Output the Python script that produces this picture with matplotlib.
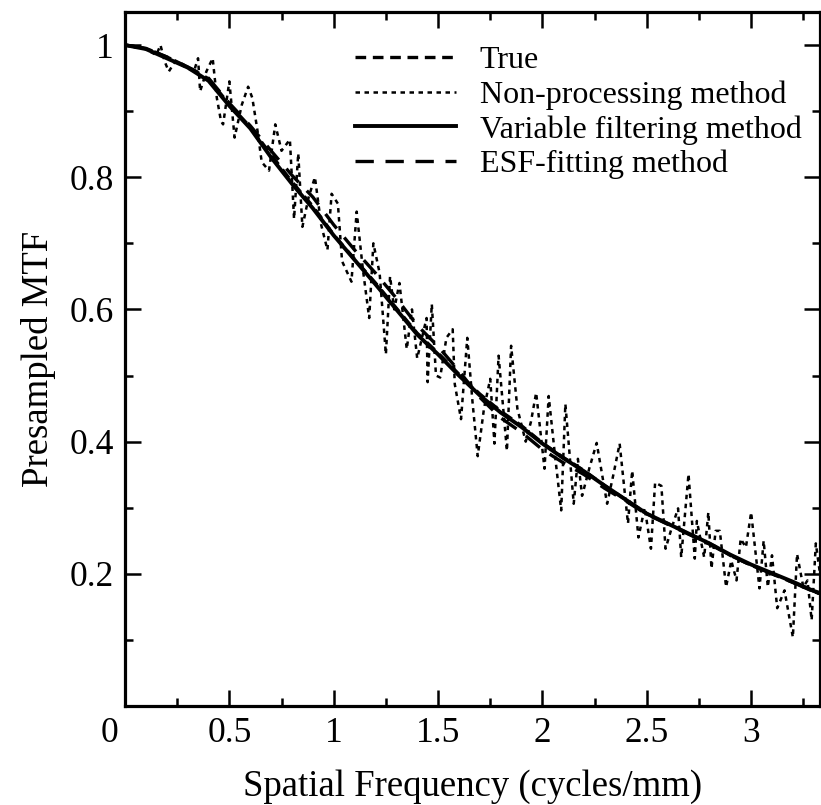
import matplotlib
matplotlib.use("Agg")
import matplotlib.pyplot as plt
from matplotlib.ticker import MultipleLocator, FuncFormatter
from matplotlib.transforms import ScaledTranslation

plt.rcParams['font.family'] = ['Liberation Serif', 'DejaVu Serif']

# ---- data ----
freq_smooth = [0.0, 0.1, 0.2, 0.3, 0.4, 0.5, 0.6, 0.7, 0.8, 0.9, 1.0, 1.1, 1.2, 1.3,
               1.4, 1.5, 1.6, 1.7, 1.8, 1.9, 2.0, 2.1, 2.2, 2.3, 2.4, 2.5, 2.6, 2.7,
               2.8, 2.9, 3.0, 3.1, 3.2, 3.3, 3.33]
mtf_true = [1.0, 0.995, 0.982, 0.967, 0.949, 0.910, 0.876, 0.834, 0.793, 0.756, 0.713,
            0.676, 0.640, 0.602, 0.564, 0.534, 0.502, 0.472, 0.446, 0.424, 0.398,
            0.376, 0.356, 0.333, 0.312, 0.291, 0.276, 0.261, 0.246, 0.228, 0.213,
            0.200, 0.187, 0.173, 0.170]
mtf_variable = [1.0, 0.994, 0.980, 0.966, 0.946, 0.908, 0.874, 0.830, 0.790, 0.753, 0.712,
                0.675, 0.638, 0.600, 0.562, 0.532, 0.500, 0.470, 0.444, 0.422, 0.397,
                0.375, 0.355, 0.333, 0.312, 0.291, 0.276, 0.261, 0.246, 0.229, 0.214,
                0.201, 0.188, 0.174, 0.171]
mtf_esf = [1.0, 0.995, 0.982, 0.967, 0.950, 0.912, 0.878, 0.840, 0.803, 0.770, 0.728,
           0.690, 0.655, 0.617, 0.576, 0.544, 0.507, 0.467, 0.436, 0.414, 0.388,
           0.368, 0.350, 0.329, 0.310, 0.290, 0.275, 0.260, 0.245, 0.228, 0.213,
           0.200, 0.187, 0.173, 0.170]

freq_raw = [0.00, 0.03, 0.06, 0.09, 0.12, 0.15, 0.17, 0.19, 0.21, 0.24, 0.27, 0.30, 0.33,
            0.35, 0.36, 0.39, 0.42, 0.44, 0.46, 0.47, 0.50, 0.525, 0.56, 0.59, 0.61,
            0.635, 0.655, 0.69, 0.72, 0.75, 0.79, 0.81, 0.83, 0.85, 0.88, 0.91, 0.94,
            0.97, 0.99, 1.02, 1.04, 1.085, 1.11, 1.14, 1.17, 1.19, 1.22, 1.25, 1.27,
            1.29, 1.315, 1.35, 1.375, 1.40, 1.445, 1.45, 1.47, 1.49, 1.51, 1.54, 1.57,
            1.58, 1.61, 1.64, 1.665, 1.69, 1.72, 1.75, 1.77, 1.79, 1.83, 1.85, 1.88,
            1.92, 1.945, 1.97, 2.01, 2.03, 2.06, 2.09, 2.11, 2.15, 2.17, 2.19, 2.225,
            2.26, 2.31, 2.34, 2.37, 2.41, 2.43, 2.46, 2.49, 2.52, 2.54, 2.57, 2.59,
            2.62, 2.65, 2.665, 2.70, 2.73, 2.74, 2.775, 2.795, 2.81, 2.83, 2.85, 2.88,
            2.905, 2.93, 2.95, 2.975, 3.00, 3.04, 3.06, 3.08, 3.10, 3.125, 3.16, 3.20,
            3.22, 3.25, 3.27, 3.29, 3.31, 3.33]
mtf_raw = [1.0, 0.998, 0.996, 0.995, 0.99, 0.985, 1.0, 0.975, 0.96, 0.975, 0.97, 0.965,
           0.96, 0.98, 0.93, 0.96, 0.98, 0.92, 0.885, 0.88, 0.945, 0.86, 0.91, 0.937,
           0.92, 0.87, 0.823, 0.81, 0.88, 0.84, 0.857, 0.737, 0.836, 0.725, 0.77, 0.80,
           0.728, 0.69, 0.775, 0.76, 0.673, 0.642, 0.748, 0.66, 0.587, 0.70, 0.655,
           0.532, 0.65, 0.60, 0.64, 0.54, 0.60, 0.526, 0.587, 0.49, 0.608, 0.50, 0.497,
           0.557, 0.57, 0.487, 0.434, 0.557, 0.46, 0.378, 0.45, 0.495, 0.397, 0.53,
           0.386, 0.545, 0.45, 0.40, 0.43, 0.474, 0.359, 0.469, 0.38, 0.296, 0.457,
           0.306, 0.374, 0.318, 0.36, 0.398, 0.306, 0.35, 0.397, 0.276, 0.356, 0.255,
           0.30, 0.238, 0.338, 0.333, 0.238, 0.27, 0.299, 0.225, 0.351, 0.223, 0.28,
           0.225, 0.293, 0.208, 0.265, 0.265, 0.18, 0.22, 0.19, 0.253, 0.24, 0.293,
           0.178, 0.25, 0.18, 0.228, 0.148, 0.175, 0.104, 0.23, 0.18, 0.19, 0.13,
           0.246, 0.20]

labels = ['True', 'Non-processing method', 'Variable filtering method', 'ESF-fitting method']

# ---- figure ----
fig = plt.figure(figsize=(8.21, 8.05), dpi=100)
ax = fig.add_axes([125 / 821, 99 / 805, 695 / 821, 694 / 805])

ax.plot(freq_raw, mtf_raw, color='black', lw=1.8, linestyle=(0, (1.8, 1.8)), label=labels[1])
ax.plot(freq_smooth, mtf_true, color='black', lw=2.4, linestyle=(0, (3.2, 2.0)), label=labels[0])
ax.plot(freq_smooth, mtf_esf, color='black', lw=2.4, linestyle=(0, (5.5, 3.5)), label=labels[3])
ax.plot(freq_smooth, mtf_variable, color='black', lw=2.8, linestyle='-', label=labels[2])

ax.set_xlim(0, 3.33)
ax.set_ylim(0, 1.05)

ax.xaxis.set_major_locator(MultipleLocator(0.5))
ax.xaxis.set_minor_locator(MultipleLocator(0.25))
ax.yaxis.set_major_locator(MultipleLocator(0.2))
ax.yaxis.set_minor_locator(MultipleLocator(0.1))
ax.xaxis.set_major_formatter(FuncFormatter(lambda v, p: '%g' % round(v, 2)))
ax.yaxis.set_major_formatter(FuncFormatter(lambda v, p: '' if abs(v) < 1e-9 else '%g' % round(v, 2)))

ax.tick_params(which='both', direction='in', top=True, right=True, width=1.8,
               labelsize=25.5, pad=8)
ax.tick_params(which='major', length=11.5)
ax.tick_params(which='minor', length=5.8)
for s in ax.spines.values():
    s.set_linewidth(2.3)

fig.canvas.draw()
for t in ax.get_xticklabels():
    if t.get_text() == '0':
        t.set_horizontalalignment('right')
        t.set_transform(t.get_transform() + ScaledTranslation(-7 / 100, 0, fig.dpi_scale_trans))

ax.set_xlabel('Spatial Frequency (cycles/mm)', fontsize=26.5, labelpad=14)
ax.set_ylabel('Presampled MTF', fontsize=26.5, labelpad=10)

h, l = ax.get_legend_handles_labels()
order = [l.index(x) for x in labels]
leg = ax.legend([h[i] for i in order], [l[i] for i in order], loc='upper left',
                bbox_to_anchor=(0.331, 0.951), frameon=False, fontsize=23,
                handlelength=3.15, handletextpad=0.75, labelspacing=0.16,
                borderpad=0, borderaxespad=0)

fig.savefig('out.png', dpi=100)
